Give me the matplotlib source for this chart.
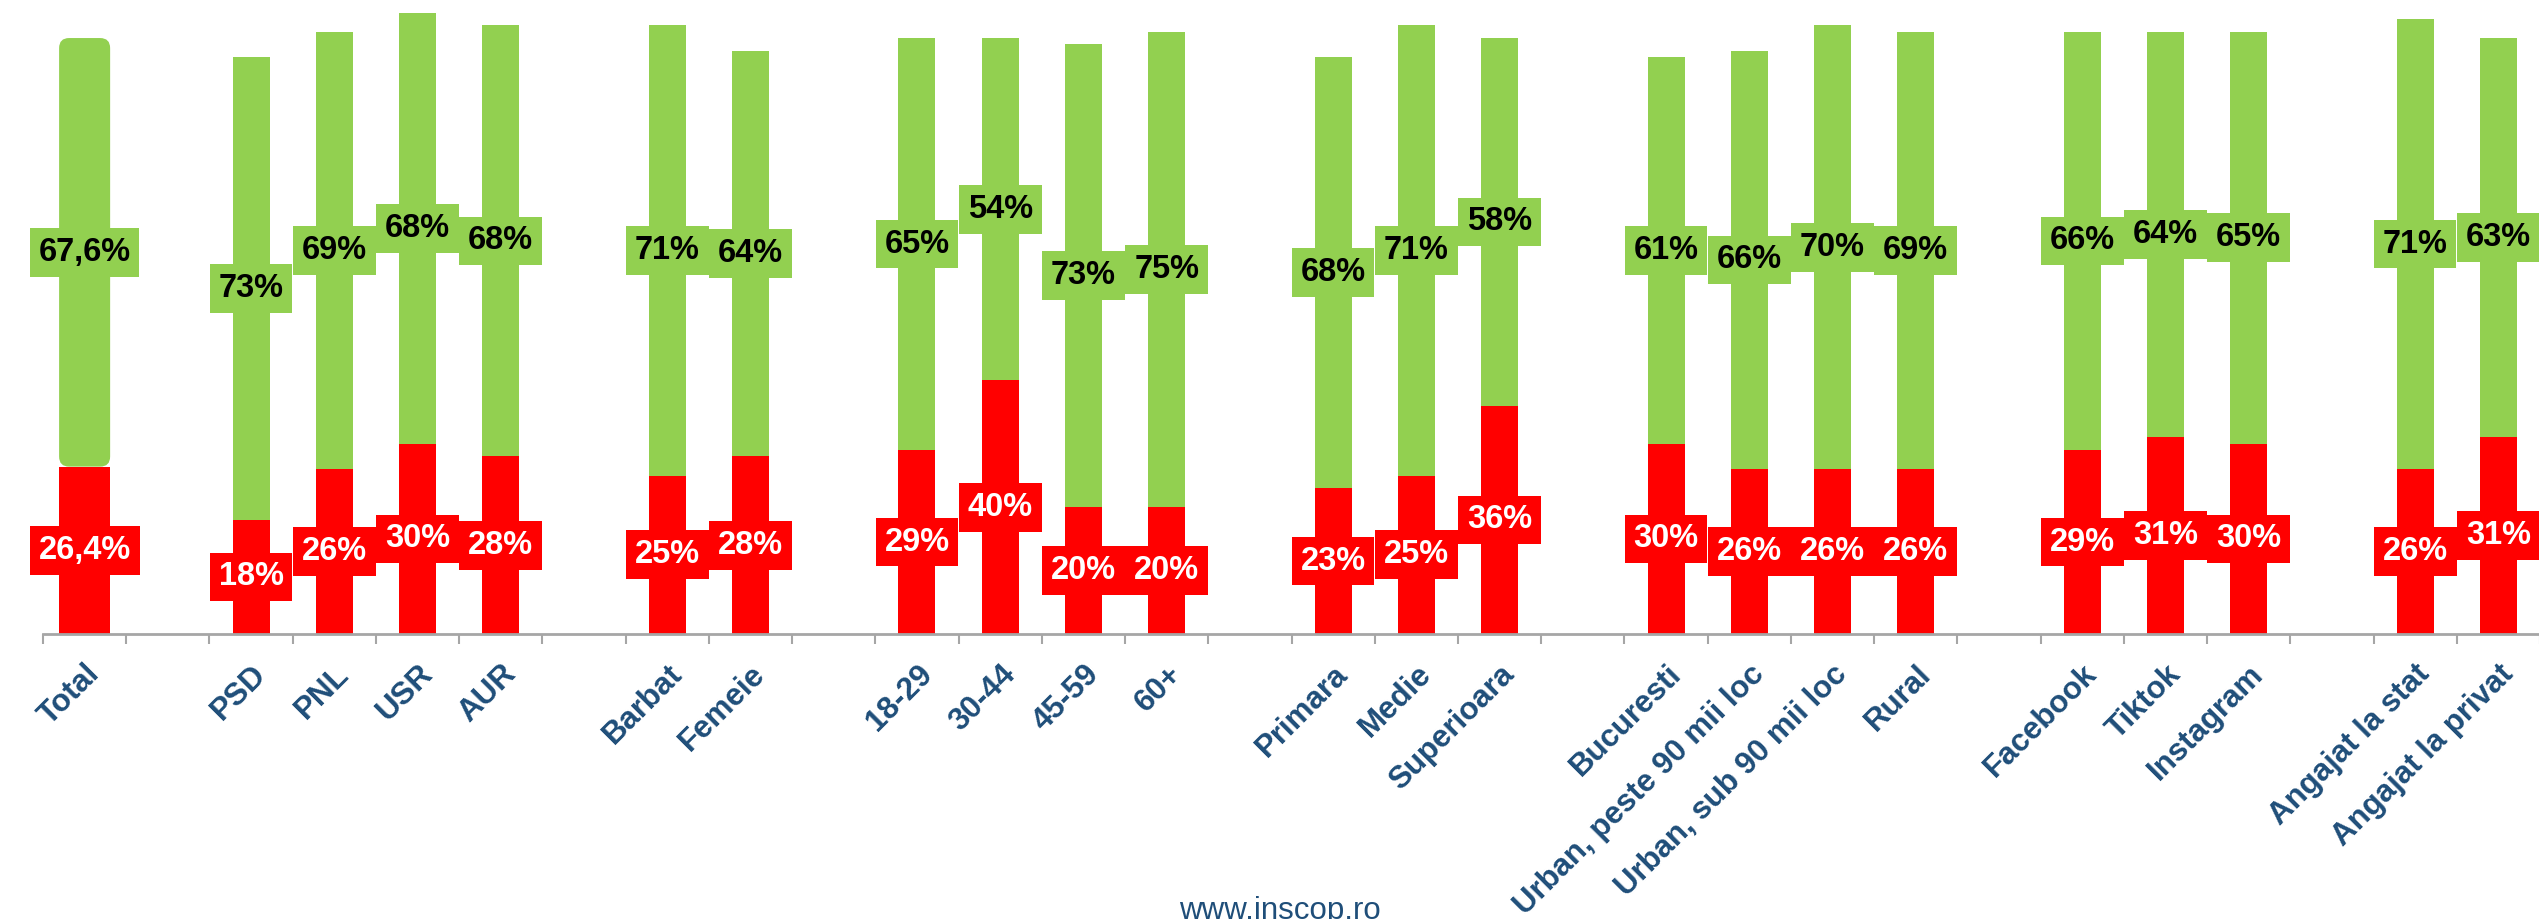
import numpy as np
import matplotlib
matplotlib.use('Agg')
import matplotlib.pyplot as plt
from matplotlib.patches import FancyBboxPatch

# categories, None marks an empty slot between groups
categories = ['Total', None, 'PSD', 'PNL', 'USR', 'AUR', None,
              'Barbat', 'Femeie', None,
              '18-29', '30-44', '45-59', '60+', None,
              'Primara', 'Medie', 'Superioara', None,
              'Bucuresti', 'Urban, peste 90 mii loc', 'Urban, sub 90 mii loc', 'Rural', None,
              'Facebook', 'Tiktok', 'Instagram', None,
              'Angajat la stat', 'Angajat la privat']

red_vals = [26.4, None, 18, 26, 30, 28, None,
            25, 28, None,
            29, 40, 20, 20, None,
            23, 25, 36, None,
            30, 26, 26, 26, None,
            29, 31, 30, None,
            26, 31]

green_vals = [67.6, None, 73, 69, 68, 68, None,
              71, 64, None,
              65, 54, 73, 75, None,
              68, 71, 58, None,
              61, 66, 70, 69, None,
              66, 64, 65, None,
              71, 63]

GREEN = '#92D050'
RED = '#FF0000'
BLUE = '#1F4E79'
GRAY = '#A6A6A6'

plt.rcParams['font.family'] = ['Liberation Sans', 'DejaVu Sans']

fig = plt.figure(figsize=(25.39, 9.19), dpi=100)
ax = fig.add_axes([43 / 2539, 285 / 919, 2497 / 2539, 634 / 919])

idx = [i for i, c in enumerate(categories) if c is not None]
labels = [categories[i] for i in idx]
reds = np.array([red_vals[i] for i in idx], dtype=float)
greens = np.array([green_vals[i] for i in idx], dtype=float)
x = np.array(idx, dtype=float)

widths = np.where(x == 0, 0.613, 0.444)

ax.bar(x, reds, width=widths, color=RED, linewidth=0, zorder=2)
for xi, r, g, w in zip(x, reds, greens, widths):
    if xi == 0:
        # the total bar has rounded corners
        patch = FancyBboxPatch((xi - w / 2, r), w, g,
                               boxstyle='round,pad=0,rounding_size=0.12',
                               mutation_aspect=13.2, fc=GREEN, ec='none', zorder=3)
        ax.add_patch(patch)
    else:
        ax.bar(xi, g, bottom=r, width=w, color=GREEN, linewidth=0, zorder=2)


def fmt(v):
    if v == int(v):
        return '%d%%' % v
    return ('%.1f%%' % v).replace('.', ',')


for xi, r, g in zip(x, reds, greens):
    ax.text(xi, r / 2, fmt(r), ha='center', va='center', color='white',
            fontsize=23.5, fontweight='bold', zorder=5,
            bbox=dict(boxstyle='square,pad=0.27', fc=RED, ec='none'))
    ax.text(xi, r + g / 2, fmt(g), ha='center', va='center', color='black',
            fontsize=23.5, fontweight='bold', zorder=5,
            bbox=dict(boxstyle='square,pad=0.27', fc=GREEN, ec='none'))

ax.set_xlim(-0.5, len(categories) - 0.5)
ax.set_ylim(0, 100)

for s in ['top', 'right', 'left']:
    ax.spines[s].set_visible(False)
ax.spines['bottom'].set_color(GRAY)
ax.spines['bottom'].set_linewidth(2)
ax.set_yticks([])

ax.set_xticks(np.arange(-0.5, len(categories), 1.0))
ax.set_xticklabels([])
ax.tick_params(axis='x', which='major', length=7, width=1.5, color=GRAY, direction='out')
ax.set_xticks(x, minor=True)
ax.set_xticklabels(labels, minor=True, rotation=45, ha='right', va='top',
                   rotation_mode='anchor', fontsize=22.5, fontweight='bold', color=BLUE)
ax.tick_params(axis='x', which='minor', length=0, pad=18)

fig.text(0.504, 0.0, 'www.inscop.ro', ha='center', va='baseline',
         fontsize=22.5, color=BLUE)

fig.savefig('out.png', dpi=100)
